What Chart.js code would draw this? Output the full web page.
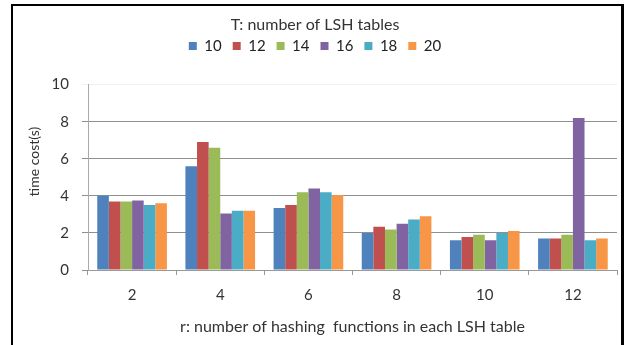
<!DOCTYPE html>
<html>
<head>
<meta charset="utf-8">
<script src="https://cdn.jsdelivr.net/npm/chart.js@4"></script>
<style>
    html, body { margin: 0; padding: 0; background: #fff; }
    #wrap { position: relative; width: 630px; height: 345px; overflow: hidden; }
    #frame {
        position: absolute; left: 11px; top: 4px; width: 608px; height: 400px;
        border-left: 2px solid #000; border-top: 2px solid #000; border-right: 3px solid #000;
    }
    canvas { position: absolute; left: 0; top: 0; }
</style>
</head>
<body>
<div id="wrap">
    <canvas id="chart" width="630" height="345"></canvas>
    <div id="frame"></div>
</div>
<script>
const FONT_FAMILY = 'Lato';
const TEXT_COLOR = '#333';
const LEGEND_GAP = 21;

const rValues = ['2', '4', '6', '8', '10', '12'];
const tables = ['10', '12', '14', '16', '18', '20'];

// time cost(s) per r, one array per T
const t10 = [4.0, 5.6, 3.35, 2.0, 1.6, 1.7];
const t12 = [3.7, 6.9, 3.5, 2.33, 1.78, 1.7];
const t14 = [3.7, 6.6, 4.2, 2.18, 1.9, 1.9];
const t16 = [3.75, 3.05, 4.4, 2.5, 1.6, 8.2];
const t18 = [3.5, 3.2, 4.2, 2.73, 2.0, 1.6];
const t20 = [3.6, 3.2, 4.05, 2.9, 2.1, 1.7];

const yTicks = [0, 2, 4, 6, 8, 10];
const colors = ['#4F81BD', '#C0504D', '#9BBB59', '#8064A2', '#4BACC6', '#F79646'];

const series = [t10, t12, t14, t16, t18, t20];

// push the plot down below the legend
const legendGap = {
    id: 'legendGap',
    beforeInit(chart) {
        const fitLegend = chart.legend.fit;
        chart.legend.fit = function () {
            fitLegend.call(this);
            this.height += LEGEND_GAP;
        };
    },
};

const config = {
    type: 'bar',
    data: {
        labels: rValues,
        datasets: series.map((d, i) => ({
            label: tables[i],
            data: d,
            backgroundColor: colors[i],
            borderWidth: 0,
            categoryPercentage: 0.79,
            barPercentage: 1.0,
        })),
    },
    options: {
        responsive: false,
        animation: false,
        layout: { padding: { left: 13, right: 13, top: 0, bottom: 0 } },
        plugins: {
            title: {
                display: true,
                text: 'T: number of LSH tables',
                color: TEXT_COLOR,
                font: { family: FONT_FAMILY, size: 16, weight: 'normal' },
                padding: { top: 15, bottom: -6.6 },
            },
            legend: {
                position: 'top',
                labels: {
                    boxWidth: 8,
                    boxHeight: 8,
                    padding: 11,
                    color: '#222',
                    font: { family: FONT_FAMILY, size: 15 },
                },
            },
            tooltip: { enabled: false },
        },
        scales: {
            x: {
                grid: {
                    drawOnChartArea: false,
                    drawTicks: true,
                    tickLength: 5,
                    color: '#999',
                },
                border: { color: '#999' },
                ticks: {
                    color: TEXT_COLOR,
                    padding: 11,
                    font: { family: FONT_FAMILY, size: 15 },
                },
                title: {
                    display: true,
                    text: 'r: number of hashing  functions in each LSH table',
                    color: TEXT_COLOR,
                    font: { family: FONT_FAMILY, size: 16 },
                    padding: { top: 8, bottom: 8.4 },
                },
                afterFit: (scale) => { scale.height = 75; },
            },
            y: {
                min: 0,
                max: 10,
                afterBuildTicks: (scale) => {
                    scale.ticks = yTicks.map(v => ({ value: v }));
                },
                grid: {
                    color: (ctx) => ctx.tick && ctx.tick.value === 10 ? '#f0f0f0' : '#8f8f8f',
                    tickLength: 6,
                },
                border: { color: '#aaa' },
                ticks: {
                    color: TEXT_COLOR,
                    padding: 13,
                    font: { family: FONT_FAMILY, size: 15 },
                },
                title: {
                    display: true,
                    // em spaces lift the label toward the top of the axis
                    text: '\u2003\u2003\u2003time cost(s)',
                    color: TEXT_COLOR,
                    font: { family: FONT_FAMILY, size: 14 },
                    padding: { top: 12.6, bottom: 0 },
                },
                afterFit: (scale) => { scale.width = 75; },
            },
        },
    },
    plugins: [legendGap],
};

new Chart(document.getElementById('chart'), config);
</script>
</body>
</html>
